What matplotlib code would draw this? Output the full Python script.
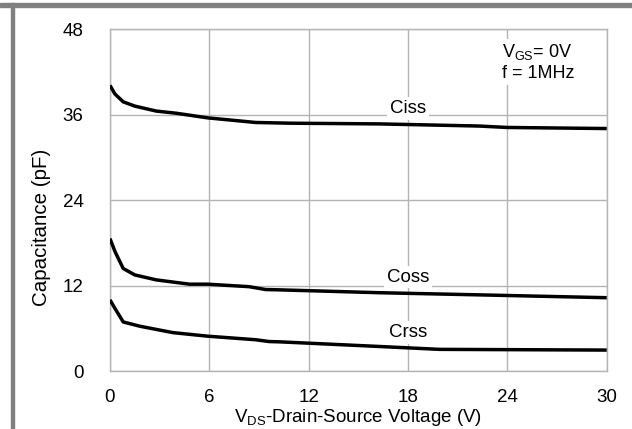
import matplotlib
matplotlib.use("Agg")
import matplotlib.pyplot as plt
from matplotlib.patches import Rectangle

plt.rcParams['font.family'] = ['Liberation Sans', 'DejaVu Sans']
plt.rcParams['mathtext.fontset'] = 'custom'
plt.rcParams['mathtext.rm'] = 'Liberation Sans'
plt.rcParams['mathtext.it'] = 'Liberation Sans'

# Valores (V, pF)
vds_ciss = [0, 0.3, 0.8, 1.5, 2.8, 4, 5.9, 8.8, 10.9, 16.3, 22.3, 24, 30]
ciss = [40.1, 38.9, 37.8, 37.2, 36.5, 36.2, 35.55, 34.9, 34.8, 34.7, 34.4, 34.2, 34.05]

vds_coss = [0, 0.3, 0.8, 1.5, 2.8, 4.8, 5.9, 8.4, 9.4, 10.3, 16.3, 22.3, 30]
coss = [18.6, 16.8, 14.4, 13.5, 12.8, 12.2, 12.2, 11.85, 11.45, 11.4, 11.0, 10.7, 10.3]

vds_crss = [0, 0.3, 0.8, 1.8, 3.8, 5.9, 8.8, 9.6, 10.3, 16.3, 19.9, 30]
crss = [10.0, 8.8, 6.9, 6.3, 5.4, 4.9, 4.4, 4.15, 4.1, 3.45, 3.05, 2.95]

xticks = [0, 6, 12, 18, 24, 30]
yticks = [0, 12, 24, 36, 48]

fig = plt.figure(figsize=(6.32, 4.29), dpi=100)
ax = fig.add_axes([0.174, 0.135, 0.786, 0.797])

for x, y in [(vds_ciss, ciss), (vds_coss, coss), (vds_crss, crss)]:
    ax.plot(x, y, color='black', linewidth=2.5, solid_capstyle='butt', zorder=3)

ax.set_xlim(0, 30)
ax.set_ylim(0, 48)
ax.set_xticks(xticks)
ax.set_yticks(yticks)
ax.tick_params(length=0, labelsize=13.5, pad=13)
ax.tick_params(axis='y', pad=19)
ax.grid(True, color='#b4b4b4', linewidth=1.0)
for s in ax.spines.values():
    s.set_color('#b4b4b4')
    s.set_linewidth(1.0)

box = dict(facecolor='white', edgecolor='none', pad=2)
ax.text(18, 36.9, 'Ciss', ha='center', va='center', fontsize=13.5, bbox=box, zorder=2)
ax.text(18, 13.2, 'Coss', ha='center', va='center', fontsize=13.5, bbox=box, zorder=2)
ax.text(18, 5.4, 'Crss', ha='center', va='center', fontsize=13.5, bbox=box, zorder=2)
ax.text(23.7, 44.8, r'V$_{\mathrm{GS}}$= 0V', ha='left', va='center', fontsize=13, bbox=box, zorder=2)
ax.text(23.7, 41.8, 'f = 1MHz', ha='left', va='center', fontsize=13, bbox=box, zorder=2)

fig.text(0.066, 0.469, 'Capacitance (pF)', rotation=90, ha='center', va='center', fontsize=14.8)
fig.text(0.566, 0.027, r'V$_{\mathrm{DS}}$-Drain-Source Voltage (V)', ha='center', va='center', fontsize=13.5)

# moldura cinza
fig.patches.append(Rectangle((0, 1 - 7 / 429), 1, 4 / 429, transform=fig.transFigure,
                             color='#808080', zorder=0))
fig.patches.append(Rectangle((11 / 632, 0), 3 / 632, 1 - 3 / 429, transform=fig.transFigure,
                             color='#808080', zorder=0))

fig.savefig('out.png', dpi=100)
